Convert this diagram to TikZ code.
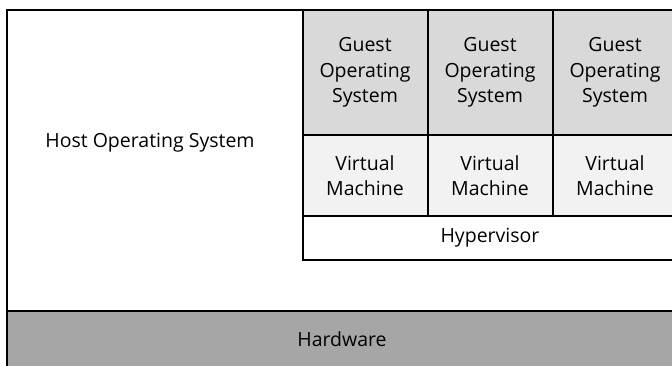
\documentclass[tikz,border=0pt]{standalone}
\usepackage{fontspec}
\setmainfont{Open Sans}
\definecolor{guestfill}{HTML}{D9D9D9}
\definecolor{vmfill}{HTML}{F2F2F2}
\definecolor{hwfill}{HTML}{A6A6A6}
\tikzset{
  frame/.style={draw=black, line width=2pt},
  cell/.style={frame, inner sep=0pt, outer sep=0pt, minimum width=125pt,
    align=center, font=\fontsize{19.5}{25.5}\selectfont},
  label/.style={inner sep=0pt, font=\fontsize{19.5}{25.5}\selectfont},
}
\begin{document}
\begin{tikzpicture}[x=1pt,y=1pt]
\useasboundingbox (0,0) rectangle (672,365);
\clip (0,0) rectangle (672,365);
\fill[white] (0,0) rectangle (672,365);
% host operating system area and hardware layer
\draw[frame] (7,54) rectangle (677.5,355);
\draw[frame, fill=hwfill] (7,-20) rectangle (677.5,54);
\node[label] (host) at (150,222.5) {Host Operating System};
\node[label] (hw) at (342,26) {Hardware};
% hypervisor
\node[cell, minimum width=375pt, minimum height=43.5pt, fill=white] (hyp) at (490,127.25) {Hypervisor};
% virtual machines
\node[cell, minimum height=81pt, fill=vmfill] (vm1) at (365,189.5) {Virtual\\Machine};
\node[cell, minimum height=81pt, fill=vmfill] (vm2) at (490,189.5) {Virtual\\Machine};
\node[cell, minimum height=81pt, fill=vmfill] (vm3) at (615,189.5) {Virtual\\Machine};
% guest operating systems
\node[cell, minimum height=125pt, fill=guestfill] (g1) at (365,292.5) {Guest\\Operating\\System};
\node[cell, minimum height=125pt, fill=guestfill] (g2) at (490,292.5) {Guest\\Operating\\System};
\node[cell, minimum height=125pt, fill=guestfill] (g3) at (615,292.5) {Guest\\Operating\\System};
\end{tikzpicture}
\end{document}
